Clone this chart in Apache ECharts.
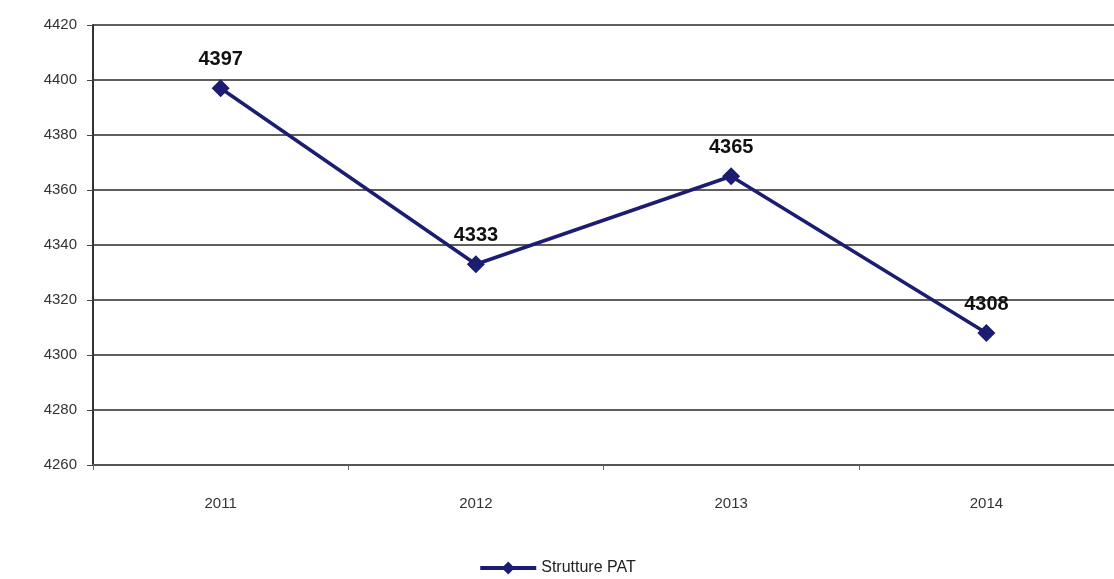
<!DOCTYPE html>
<html><head><meta charset="utf-8">
<script src="https://cdn.jsdelivr.net/npm/echarts@6/dist/echarts.min.js"></script>
<style>html,body{margin:0;padding:0;background:#fff}#c{width:1114px;height:579px}</style>
</head><body><div id="c"></div>
<script>
const categories = ['2011', '2012', '2013', '2014'];
const values = [4397, 4333, 4365, 4308];
const seriesName = 'Strutture PAT';
const yMin = 4260, yMax = 4420, yStep = 20;

const chart = echarts.init(document.getElementById('c'), null, {renderer: 'canvas'});
chart.setOption({
  backgroundColor: '#ffffff',
  animation: false,
  grid: {left: 93, right: 0, top: 25, bottom: 114, containLabel: false},
  legend: {
    top: 555, left: 'center',
    data: [seriesName],
    itemWidth: 56, itemHeight: 16,
    lineStyle: {width: 4},
    textStyle: {fontFamily: 'Liberation Sans', fontSize: 16, color: '#222'}
  },
  xAxis: {
    type: 'category', data: categories, boundaryGap: true,
    axisLine: {lineStyle: {color: '#555', width: 2}},
    axisTick: {show: true, length: 5, lineStyle: {color: '#666'}},
    axisLabel: {fontFamily: 'Liberation Sans', fontSize: 15, color: '#333', margin: 31}
  },
  yAxis: {
    type: 'value', min: yMin, max: yMax, interval: yStep,
    axisLine: {show: true, lineStyle: {color: '#333', width: 2}},
    axisTick: {show: true, length: 6, lineStyle: {color: '#444'}},
    axisLabel: {fontFamily: 'Liberation Sans', fontSize: 15, color: '#333', margin: 16,
      formatter: v => String(v)},
    splitLine: {lineStyle: {color: '#5e5e5e', width: 2}}
  },
  series: [{
    name: seriesName, type: 'line', data: values,
    symbol: 'diamond', symbolSize: 18,
    lineStyle: {color: '#1c1c72', width: 3.5},
    itemStyle: {color: '#1c1c72'},
    label: {show: true, position: 'top', distance: 10,
      fontFamily: 'Liberation Sans', fontWeight: 'bold', fontSize: 20, color: '#111'}
  }]
});
</script></body></html>
